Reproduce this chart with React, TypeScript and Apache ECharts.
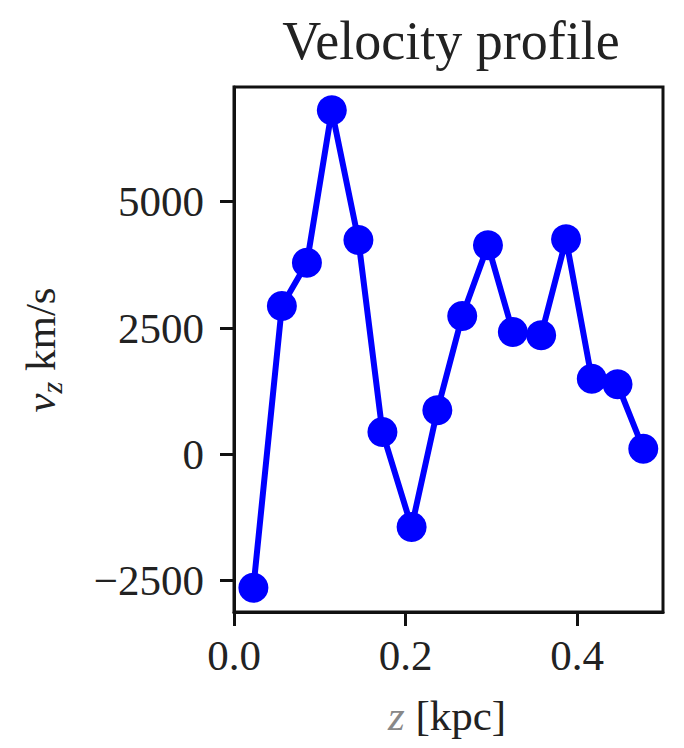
import React, { useEffect, useRef } from "react";
import * as echarts from "echarts";

// Height above the midplane [kpc]
const zKpc = [0.0226, 0.0558, 0.085, 0.114, 0.145, 0.173, 0.207, 0.237, 0.266, 0.296, 0.325, 0.358, 0.387, 0.417, 0.447, 0.477];
// Vertical velocity [km/s]
const vz = [-2640, 2935, 3793, 6809, 4242, 441, -1439, 871, 2738, 4137, 2421, 2355, 4256, 1497, 1386, 111];

const xTicks = [0, 0.2, 0.4];
const yTicks = [-2500, 0, 2500, 5000];

const SERIF = "'Liberation Serif', 'DejaVu Serif', serif";

export default function App() {
  const ref = useRef<HTMLDivElement>(null);

  useEffect(() => {
    if (!ref.current) return;
    const chart = echarts.init(ref.current, null, { renderer: "svg" });
    const data = zKpc.map((z, i) => [z, vz[i]]);
    chart.setOption({
      animation: false,
      backgroundColor: "#ffffff",
      title: {
        text: "Velocity profile",
        left: 446,
        top: 9,
        textAlign: "center",
        textStyle: { fontFamily: SERIF, fontSize: 54, fontWeight: "normal", color: "#222" },
      },
      grid: {
        left: 234,
        top: 87,
        right: 21,
        bottom: 136,
        show: true,
        borderColor: "#111",
        borderWidth: 3,
        backgroundColor: "transparent",
      },
      xAxis: {
        type: "value",
        min: 0,
        max: 0.5,
        axisLine: { show: true, onZero: false, lineStyle: { color: "#111", width: 3 } },
        axisTick: { show: true, customValues: xTicks, length: 14, lineStyle: { color: "#111", width: 3 } },
        axisLabel: {
          customValues: xTicks,
          formatter: (v: number) => v.toFixed(1),
          fontFamily: SERIF,
          fontSize: 43,
          color: "#222",
          margin: 22,
        },
        splitLine: { show: false },
      },
      yAxis: {
        type: "value",
        min: -3120,
        max: 7270,
        axisLine: { show: true, onZero: false, lineStyle: { color: "#111", width: 3 } },
        axisTick: { show: true, customValues: yTicks, length: 14, lineStyle: { color: "#111", width: 3 } },
        axisLabel: {
          customValues: yTicks,
          formatter: (v: number) => (v < 0 ? "\u2212" + Math.abs(v) : String(v)),
          fontFamily: SERIF,
          fontSize: 43,
          color: "#222",
          margin: 30,
        },
        splitLine: { show: false },
      },
      graphic: [
        {
          type: "text",
          x: 40,
          y: 350,
          rotation: Math.PI / 2,
          style: {
            text: "{i|v}{sub|z}{n| km/s}",
            textAlign: "center",
            textVerticalAlign: "middle",
            fill: "#222",
            rich: {
              i: { fontFamily: SERIF, fontStyle: "italic", fontSize: 43, lineHeight: 52, verticalAlign: "middle" },
              sub: { fontFamily: SERIF, fontStyle: "italic", fontSize: 30, lineHeight: 52, verticalAlign: "bottom" },
              n: { fontFamily: SERIF, fontSize: 43, lineHeight: 52, verticalAlign: "middle" },
            },
          },
        },
        {
          type: "text",
          x: 447,
          y: 715,
          style: {
            text: "{i|z}{n| [kpc]}",
            textAlign: "center",
            textVerticalAlign: "middle",
            fill: "#222",
            rich: {
              i: { fontFamily: SERIF, fontStyle: "italic", fontSize: 43, fill: "#888" },
              n: { fontFamily: SERIF, fontSize: 43 },
            },
          },
        },
      ],
      series: [
        {
          type: "line",
          data,
          symbol: "circle",
          symbolSize: 30,
          lineStyle: { color: "#0000ff", width: 6 },
          itemStyle: { color: "#0000ff" },
        },
      ],
    });
    return () => chart.dispose();
  }, []);

  return <div ref={ref} style={{ position: "fixed", left: 0, top: 0, width: 684, height: 748 }} />;
}
